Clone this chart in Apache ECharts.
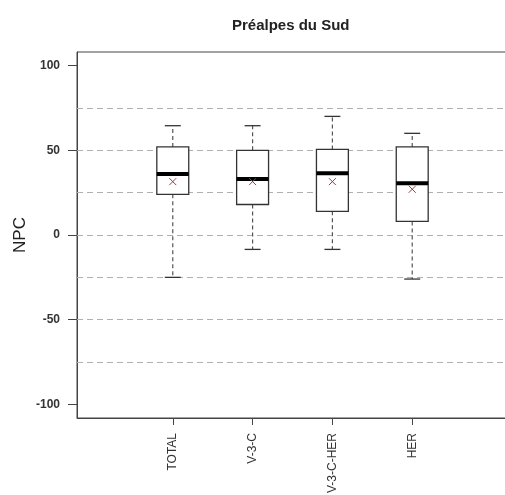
<!DOCTYPE html>
<html>
<head>
<meta charset="utf-8">
<script src="https://cdn.jsdelivr.net/npm/echarts@6/dist/echarts.min.js"></script>
<style>html,body{margin:0;padding:0;background:#fff}#c{width:505px;height:495px}</style>
</head>
<body>
<div id="c"></div>
<script>
const categories = ['TOTAL', 'V-3-C', 'V-3-C-HER', 'HER'];
const whiskerLow = [-25, -8.5, -8.5, -26];
const q1 = [24, 18, 14, 8];
const median = [36, 33, 36.5, 30.5];
const q3 = [52, 50, 50.5, 52];
const whiskerHigh = [64.5, 64.5, 70, 60];
const mean = [31.5, 31.5, 31.5, 27];
const gridLevels = [-75, -50, -25, 0, 25, 50, 75];
const yTicks = [-100, -50, 0, 50, 100];
const xPositions = [1, 2, 3, 4];

const boxData = categories.map((c, i) => [xPositions[i], whiskerLow[i], q1[i], median[i], q3[i], whiskerHigh[i], mean[i]]);

const chart = echarts.init(document.getElementById('c'), null, {renderer: 'canvas'});

function renderBox(params, api) {
  const x = api.value(0);
  const pLow = api.coord([x, api.value(1)]);
  const pQ1 = api.coord([x, api.value(2)]);
  const pMed = api.coord([x, api.value(3)]);
  const pQ3 = api.coord([x, api.value(4)]);
  const pHigh = api.coord([x, api.value(5)]);
  const pMean = api.coord([x, api.value(6)]);
  const bw = api.size([0.4, 0])[0];
  const hw = bw / 2;
  const cx = pQ1[0];
  const cap = hw / 2;
  const dash = {stroke: '#555', lineWidth: 1.2, lineDash: [4, 3]};
  const solid = {stroke: '#333', lineWidth: 1.3};
  const m = 3.5;
  return {
    type: 'group',
    children: [
      {type: 'line', shape: {x1: cx, y1: pQ3[1], x2: cx, y2: pHigh[1]}, style: dash},
      {type: 'line', shape: {x1: cx, y1: pQ1[1], x2: cx, y2: pLow[1]}, style: dash},
      {type: 'line', shape: {x1: cx - cap, y1: pHigh[1], x2: cx + cap, y2: pHigh[1]}, style: solid},
      {type: 'line', shape: {x1: cx - cap, y1: pLow[1], x2: cx + cap, y2: pLow[1]}, style: solid},
      {type: 'rect', shape: {x: cx - hw, y: pQ3[1], width: bw, height: pQ1[1] - pQ3[1]}, style: {fill: '#fff', stroke: '#333', lineWidth: 1.3}},
      {type: 'line', shape: {x1: cx - hw, y1: pMed[1], x2: cx + hw, y2: pMed[1]}, style: {stroke: '#000', lineWidth: 4}},
      {type: 'line', shape: {x1: pMean[0] - m, y1: pMean[1] - m, x2: pMean[0] + m, y2: pMean[1] + m}, style: {stroke: '#a83838', lineWidth: 1}},
      {type: 'line', shape: {x1: pMean[0] - m, y1: pMean[1] + m, x2: pMean[0] + m, y2: pMean[1] - m}, style: {stroke: '#a83838', lineWidth: 1}}
    ]
  };
}

chart.setOption({
  animation: false,
  backgroundColor: '#fff',
  title: {
    text: 'Préalpes du Sud',
    left: 227, top: 13,
    textStyle: {fontFamily: 'Liberation Sans', fontSize: 15, fontWeight: 'bold', color: '#222'}
  },
  grid: {left: 77, top: 52, width: 431, height: 366, containLabel: false, outerBoundsMode: 'none',
    show: true, borderColor: '#444', borderWidth: 1, backgroundColor: 'transparent'},
  xAxis: {
    type: 'value', min: -0.2, max: 5.2,
    splitLine: {show: false},
    axisLine: {show: true, onZero: false, lineStyle: {color: '#444', width: 1}},
    axisTick: {show: true, customValues: xPositions, length: 7, lineStyle: {color: '#444'}},
    axisLabel: {
      show: true, customValues: xPositions, rotate: 90, margin: 15,
      fontFamily: 'Liberation Sans', fontSize: 12, color: '#333',
      formatter: function (v) { return categories[xPositions.indexOf(v)] || ''; }
    }
  },
  yAxis: {
    type: 'value', min: -108, max: 108,
    name: 'NPC', nameLocation: 'middle', nameGap: 48, nameRotate: 90, nameMoveOverlap: false,
    nameTextStyle: {fontFamily: 'Liberation Sans', fontSize: 17, color: '#222'},
    splitLine: {show: false},
    axisLine: {show: true, onZero: false, lineStyle: {color: '#444', width: 1}},
    axisTick: {show: true, customValues: yTicks, length: 9, lineStyle: {color: '#444'}},
    axisLabel: {
      show: true, customValues: yTicks, margin: 17,
      fontFamily: 'Liberation Sans', fontSize: 12, fontWeight: 'bold', color: '#333'
    }
  },
  series: [
    {
      type: 'line', data: [], z: 1, silent: true,
      markLine: {
        silent: true, symbol: 'none', animation: false,
        label: {show: false},
        lineStyle: {type: [6, 4], color: '#b0b0b0', width: 1},
        data: gridLevels.map(v => ({yAxis: v}))
      }
    },
    {
      type: 'custom', z: 5, silent: true,
      renderItem: renderBox,
      encode: {x: 0, y: [1, 2, 3, 4, 5, 6]},
      data: boxData
    }
  ]
});
</script>
</body>
</html>
